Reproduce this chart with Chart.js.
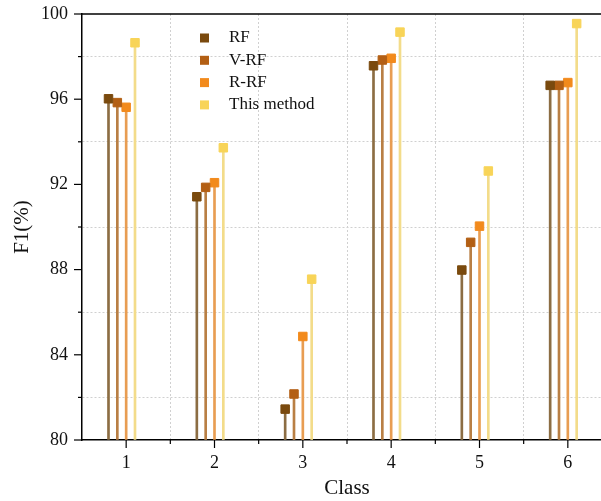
<!DOCTYPE html>
<html>
<head>
<meta charset="utf-8">
<script src="https://cdn.jsdelivr.net/npm/chart.js@4.4.1/dist/chart.umd.min.js"></script>
<style>
  html, body { margin: 0; padding: 0; background: #fff; overflow: hidden; width: 601px; height: 501px; }
  #wrap { width: 619px; height: 501px; }
</style>
</head>
<body>
<div id="wrap"><canvas id="c" width="619" height="501"></canvas></div>
<script>
// data
const classes = [1, 2, 3, 4, 5, 6];
const seriesNames = ["RF", "V-RF", "R-RF", "This method"];
const offsets = [-0.2, -0.1, 0, 0.1];
const rf      = [96.02, 91.42, 81.45, 97.57, 87.98, 96.65];
const vrf     = [95.84, 91.86, 82.16, 97.84, 89.28, 96.65];
const rrf     = [95.62, 92.08, 84.86, 97.92, 90.04, 96.78];
const thisMethod = [98.65, 93.72, 87.55, 99.15, 92.63, 99.55];
const allValues = [rf, vrf, rrf, thisMethod];

const markerColors = ["#7a4a0e", "#b35f14", "#f28a1c", "#f8d458"];
const stemColors   = ["#8c6d43", "#b97f44", "#e89d52", "#f3dc8a"];

const datasets = [];
// stems as thin bars
allValues.forEach((vals, i) => {
  datasets.push({
    type: 'bar',
    label: seriesNames[i] + ' stem',
    data: classes.map((c, k) => ({ x: c + offsets[i], y: vals[k] })),
    backgroundColor: stemColors[i],
    barThickness: 2,
    grouped: false,
    base: 80,
    order: 2
  });
});
// square markers
allValues.forEach((vals, i) => {
  datasets.push({
    type: 'scatter',
    label: seriesNames[i],
    data: classes.map((c, k) => ({ x: c + offsets[i], y: vals[k] })),
    backgroundColor: markerColors[i],
    borderColor: markerColors[i],
    borderWidth: 1,
    pointStyle: 'rect',
    pointRadius: 6,
    order: 1
  });
});

const serif = "'Liberation Serif', 'Times New Roman', serif";

// axis ticks (major/minor), top frame line, legend
const decorations = {
  id: 'decorations',
  afterDraw(chart) {
    const ctx = chart.ctx;
    const a = chart.chartArea;
    const xs = chart.scales.x, ys = chart.scales.y;
    ctx.save();
    ctx.strokeStyle = '#000';
    ctx.lineWidth = 1.5;
    // top frame line
    ctx.beginPath();
    ctx.moveTo(a.left, a.top);
    ctx.lineTo(a.right, a.top);
    ctx.stroke();
    ctx.lineWidth = 1.2;
    // y ticks
    for (let v = 80; v <= 100; v += 2) {
      const y = ys.getPixelForValue(v);
      const len = v % 4 === 0 ? 8 : 4;
      ctx.beginPath();
      ctx.moveTo(a.left - len, y);
      ctx.lineTo(a.left, y);
      ctx.stroke();
    }
    // x ticks
    for (let v = 1; v <= 6.5; v += 0.5) {
      const x = xs.getPixelForValue(v);
      const len = v % 1 === 0 ? 8 : 4;
      ctx.beginPath();
      ctx.moveTo(x, a.bottom);
      ctx.lineTo(x, a.bottom + len);
      ctx.stroke();
    }
    // legend
    ctx.font = "17px " + serif;
    ctx.textBaseline = 'middle';
    ctx.textAlign = 'left';
    seriesNames.forEach((name, i) => {
      const y = 38 + i * 22.3;
      ctx.fillStyle = markerColors[i];
      ctx.fillRect(200, y - 4.5, 9, 9);
      ctx.fillStyle = '#111';
      ctx.fillText(name, 229, y);
    });
    ctx.restore();
  }
};

new Chart(document.getElementById('c'), {
  data: { datasets: datasets },
  options: {
    responsive: false,
    animation: false,
    layout: { padding: { top: 14, right: 0, left: 0, bottom: 0 } },
    plugins: {
      legend: { display: false },
      tooltip: { enabled: false }
    },
    scales: {
      x: {
        type: 'linear',
        offset: false,
        min: 0.5,
        max: 6.5,
        afterFit: s => { s.height = 61; s.paddingLeft = 0; s.paddingRight = 0; },
        ticks: {
          stepSize: 0.5,
          autoSkip: false,
          maxRotation: 0,
          padding: 12,
          color: '#111',
          font: { family: serif, size: 18 },
          callback: v => (v % 1 === 0 && v <= 6 ? String(v) : '')
        },
        grid: {
          offset: false,
          drawTicks: false,
          color: ctx => (ctx.tick && ctx.tick.value % 1 !== 0 && ctx.tick.value > 0.5 && ctx.tick.value < 6.5) ? '#d0d0d0' : 'rgba(0,0,0,0)',
          lineWidth: 1
        },
        border: { color: '#000', width: 1.5, dash: [2, 2] },
        title: {
          display: true,
          text: 'Class',
          color: '#111',
          font: { family: serif, size: 21 },
          padding: { top: 0, bottom: 0 }
        }
      },
      y: {
        min: 80,
        max: 100,
        afterFit: s => { s.width = 82; s.paddingTop = 0; s.paddingBottom = 0; },
        ticks: {
          stepSize: 2,
          padding: 14,
          color: '#111',
          font: { family: serif, size: 18 },
          callback: v => (v % 4 === 0 ? String(v) : '')
        },
        grid: {
          drawTicks: false,
          color: ctx => (ctx.tick && ctx.tick.value % 4 !== 0) ? '#d0d0d0' : 'rgba(0,0,0,0)',
          lineWidth: 1
        },
        border: { color: '#000', width: 1.5, dash: [2, 2] },
        title: {
          display: true,
          text: 'F1(%)',
          color: '#111',
          font: { family: serif, size: 21 },
          padding: { top: 10, bottom: 0 }
        }
      }
    }
  },
  plugins: [decorations]
});
</script>
</body>
</html>
